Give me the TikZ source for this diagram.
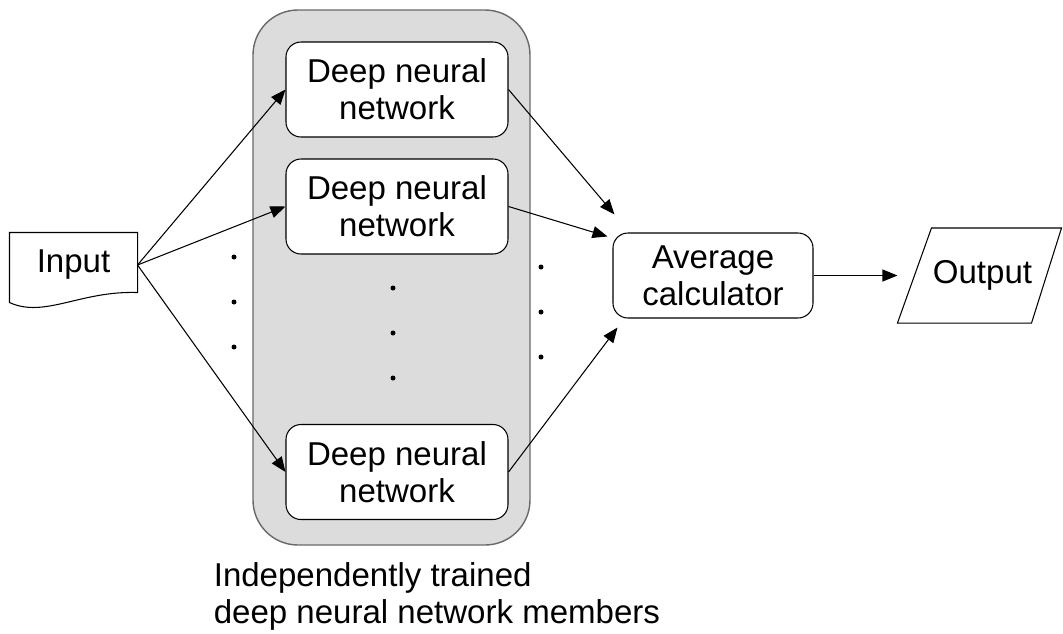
\documentclass[tikz,border=0pt]{standalone}
\usepackage{fontspec}
\setmainfont{Liberation Sans}
\usepackage{tikz}
\usetikzlibrary{positioning,shapes,arrows.meta}
\definecolor{grpgrey}{RGB}{220,220,220}
\definecolor{grpline}{RGB}{105,105,105}
\tikzstyle{dnn}=[draw, fill=white, rounded corners=0.3cm, minimum height = 1.9cm, minimum width=4.44cm, align=center, line width=0.6pt]
\tikzstyle{avgbox}=[draw, fill=white, rounded corners=0.3cm, minimum height = 1.7cm, minimum width=4cm, align=center, line width=0.6pt]
\tikzstyle{grp}=[draw=grpline, fill=grpgrey, rounded corners=0.9cm, minimum height = 10.7cm, minimum width=5.54cm, line width=0.8pt]
\tikzstyle{inbox}=[minimum height = 1.28cm, minimum width=2.54cm, inner sep=0pt]
\tikzstyle{outbox}=[minimum height = 1.88cm, minimum width=3.28cm, inner sep=0pt]

\begin{document}
\begin{tikzpicture}[node distance=2cm,auto,>={Triangle[length=0.3cm,width=0.24cm]},line width=0.6pt,font=\fontsize{18.8}{21}\selectfont]
\useasboundingbox (0,0) rectangle (21.26,-12.66);

\node[grp] at (7.83,-5.55) (group) {};
\node[dnn] at (7.94,-1.79) (dnn1) {Deep neural\\network};
\node[dnn, below of = dnn1, node distance = 2.34cm] (dnn2) {Deep neural\\network};
\node[dnn, below of = dnn2, node distance = 5.31cm] (dnn3) {Deep neural\\network};

\node[inbox] at (1.47,-5.3) (input) {Input};
\draw (input.north west) -- (input.north east) -- ([yshift=0.1cm]input.south east)
  .. controls +(-1.14,0.04) and +(0.7,-0.32) .. ([yshift=-0.1cm]input.south west) -- cycle;

\node[avgbox] at (14.26,-5.51) (avg) {Average\\calculator};
\node[outbox, right of = avg, node distance = 5.34cm] (output) {\hspace{0.1cm}Output};
\draw (output.south west) -- ([xshift=0.68cm]output.north west) -- ([xshift=-0.02cm]output.north east)
  -- ([xshift=-0.62cm]output.south east) -- cycle;

\draw[->] (input.east) -- (dnn1.west);
\draw[->] (input.east) -- (dnn2.west);
\draw[->] (input.east) -- (dnn3.west);

\draw[->] (dnn1.east) -- ([shift={(0.04,0.36)}]avg.north west);
\draw[->] (dnn2.east) -- ([shift={(-0.1,-0.08)}]avg.north west);
\draw[->] (dnn3.east) -- ([shift={(0.1,-0.18)}]avg.south west);
\draw[->] (avg.east) -- (output.west);

% dots between the members
\foreach \y in {-5.14,-6.04,-6.94} \fill (4.68,\y) circle (0.05);
\foreach \y in {-5.76,-6.66,-7.56} \fill (7.86,\y) circle (0.05);
\foreach \y in {-5.34,-6.24,-7.14} \fill (10.82,\y) circle (0.05);

\node[anchor=north west, align=left, inner sep=0pt] at ([shift={(-0.78,-0.32)}]group.south west) (caption) {Independently trained\\deep neural network members};
\end{tikzpicture}
\end{document}
